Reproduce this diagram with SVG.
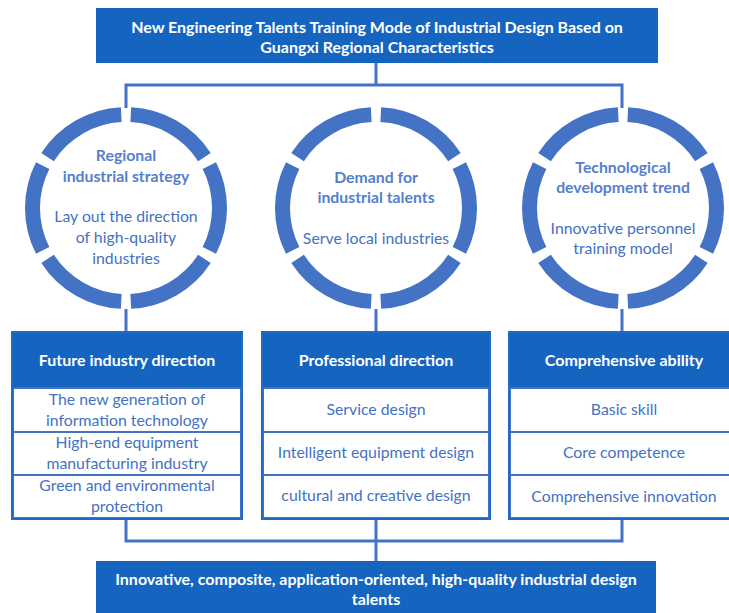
<svg xmlns="http://www.w3.org/2000/svg" width="729" height="613" viewBox="0 0 729 613">
  <style>
    .hdr { fill: #1565C0; }
    .title { font-family: Lato, "Open Sans", sans-serif; font-weight: bold; font-size: 16px; fill: #ffffff; text-anchor: middle; }
    .ring { fill: none; stroke: #4472C4; stroke-width: 15; stroke-dasharray: 54 6; stroke-dashoffset: 27; }
    .ch { font-family: Lato, "Open Sans", sans-serif; font-weight: bold; font-size: 15.8px; fill: #5580CC; text-anchor: middle; }
    .cb { font-family: Lato, "Open Sans", sans-serif; font-size: 15.8px; fill: #4472C4; text-anchor: middle; }
    .row { fill: #ffffff; stroke: #4472C4; stroke-width: 2; }
    .frame { fill: none; stroke: #1E6AC6; stroke-width: 2; }
    .rt { font-family: Lato, "Open Sans", sans-serif; font-size: 15.8px; fill: #4472C4; text-anchor: middle; }
    .link { fill: none; stroke: #4472C4; stroke-width: 3; }
  </style>

  <!-- connectors -->
  <g id="connectors">
    <path class="link" d="M376,63 V85 M126,108 V85 H622 V108"/>
    <path class="link" d="M126,309 V332 M376,309 V332 M622,309 V332"/>
    <path class="link" d="M126,518 V541 H622 V518 M376,518 V561"/>
  </g>

  <!-- top -->
  <g id="goal">
    <rect class="hdr" x="96" y="8" width="562" height="55"/>
    <text class="title" x="377" y="33">New Engineering Talents Training Mode of Industrial Design Based on</text>
    <text class="title" x="377" y="53">Guangxi Regional Characteristics</text>
  </g>

  <!-- circles -->
  <g id="circle-strategy">
    <circle class="ring" cx="126" cy="208" r="93.5" pathLength="360"/>
    <text class="ch" x="126" y="161">Regional</text>
    <text class="ch" x="126" y="182">industrial strategy</text>
    <text class="cb" x="126" y="222">Lay out the direction</text>
    <text class="cb" x="126" y="243">of high-quality</text>
    <text class="cb" x="126" y="264">industries</text>
  </g>
  <g id="circle-demand">
    <circle class="ring" cx="376" cy="208" r="93.5" pathLength="360"/>
    <text class="ch" x="376" y="183">Demand for</text>
    <text class="ch" x="376" y="203">industrial talents</text>
    <text class="cb" x="376" y="244">Serve local industries</text>
  </g>
  <g id="circle-trend">
    <circle class="ring" cx="623" cy="208" r="93.5" pathLength="360"/>
    <text class="ch" x="623" y="173">Technological</text>
    <text class="ch" x="623" y="193">development trend</text>
    <text class="cb" x="623" y="234">Innovative personnel</text>
    <text class="cb" x="623" y="254">training model</text>
  </g>

  <!-- column boxes -->
  <g id="box-industry">
    <rect class="hdr" x="12" y="332" width="230" height="56"/>
    <text class="title" x="127" y="366">Future industry direction</text>
    <rect class="row" x="13" y="388" width="228" height="44"/>
    <rect class="row" x="13" y="432" width="228" height="43"/>
    <rect class="row" x="13" y="475" width="228" height="43"/>
    <rect class="frame" x="12" y="332" width="230" height="187"/>
    <text class="rt" x="127" y="405">The new generation of</text>
    <text class="rt" x="127" y="426">information technology</text>
    <text class="rt" x="127" y="448">High-end equipment</text>
    <text class="rt" x="127" y="469">manufacturing industry</text>
    <text class="rt" x="127" y="491">Green and environmental</text>
    <text class="rt" x="127" y="512">protection</text>
  </g>
  <g id="box-profession">
    <rect class="hdr" x="262" y="332" width="228" height="56"/>
    <text class="title" x="376" y="366">Professional direction</text>
    <rect class="row" x="263" y="388" width="226" height="44"/>
    <rect class="row" x="263" y="432" width="226" height="43"/>
    <rect class="row" x="263" y="475" width="226" height="43"/>
    <rect class="frame" x="262" y="332" width="228" height="187"/>
    <text class="rt" x="376" y="415">Service design</text>
    <text class="rt" x="376" y="458">Intelligent equipment design</text>
    <text class="rt" x="376" y="501">cultural and creative design</text>
  </g>
  <g id="box-ability">
    <rect class="hdr" x="509" y="332" width="221" height="56"/>
    <text class="title" x="624" y="366">Comprehensive ability</text>
    <rect class="row" x="510" y="388" width="220" height="44"/>
    <rect class="row" x="510" y="432" width="220" height="43"/>
    <rect class="row" x="510" y="475" width="220" height="43"/>
    <rect class="frame" x="509" y="332" width="222" height="187"/>
    <text class="rt" x="624" y="415">Basic skill</text>
    <text class="rt" x="624" y="458">Core competence</text>
    <text class="rt" x="624" y="502">Comprehensive innovation</text>
  </g>

  <!-- result -->
  <g id="result">
    <rect class="hdr" x="96" y="561" width="560" height="52"/>
    <text class="title" x="376" y="585">Innovative, composite, application-oriented, high-quality industrial design</text>
    <text class="title" x="376" y="605">talents</text>
  </g>
</svg>
